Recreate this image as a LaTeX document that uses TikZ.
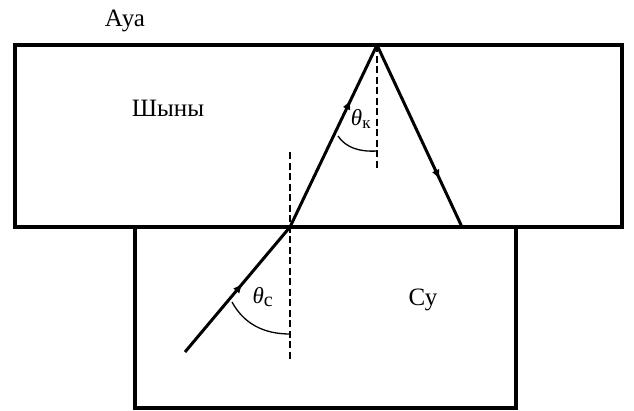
\documentclass[tikz,border=0pt]{standalone}
\usepackage{fontspec}
\setmainfont{Liberation Serif}
\usetikzlibrary{decorations.markings,arrows.meta}
\tikzset{
  wall/.style={line width=3.2pt},
  ray/.style={line width=3pt},
  normal/.style={line width=2pt, dash pattern=on 7pt off 3.5pt},
  arc/.style={line width=1.3pt},
  lbl/.style={font=\fontsize{25}{25}\selectfont, inner sep=0pt},
  ang/.style={font=\fontsize{23}{23}\selectfont, inner sep=0pt},
  midarrow/.style={postaction={decorate, decoration={markings,
     mark=at position #1 with {\arrow{Latex[length=10pt,width=8pt]}}}}}
}
\begin{document}
\begin{tikzpicture}[x=1pt,y=-1pt]
\useasboundingbox (0,0) rectangle (634,410);
% water box
\coordinate (wTL) at (135,227);
\coordinate (wBL) at (135,408);
\coordinate (wBR) at (516,408);
\coordinate (wTR) at (516,227);
\draw[wall] (wTL) -- (wBL) -- (wBR) -- (wTR);
% glass box
\coordinate (gTL) at (15,45);
\coordinate (gTR) at (622,45);
\coordinate (gBR) at (622,227);
\coordinate (gBL) at (15,227);
\draw[wall] (gTL) -- (gTR) -- (gBR) -- (gBL) -- cycle;
% points
\coordinate (S) at (185,352);
\coordinate (P) at (290,227);
\coordinate (Q) at (377,45);
\coordinate (R) at (462,227);
% normals
\coordinate (n1a) at (290,152);
\coordinate (n1b) at (290,362);
\coordinate (n2b) at (377,170);
\draw[normal] (n1a) -- (n1b);
\draw[normal] (Q) -- (n2b);
% rays
\draw[ray, midarrow=0.55] (S) -- (P);
\draw[ray, midarrow=0.70] (P) -- (Q);
\draw[ray, midarrow=0.74] (Q) -- (R);
% angle arcs
\coordinate (a1s) at (232,302);
\coordinate (a1e) at (290,334);
\draw[arc] (a1s) .. controls (244,324) and (264,334) .. (a1e);
\coordinate (a2s) at (338,136);
\coordinate (a2e) at (377,151);
\draw[arc] (a2s) .. controls (346,148) and (360,152) .. (a2e);
% labels
\node[lbl] (aua) at (125,21) {Ауа};
\node[lbl] (glass) at (168,108) {Шыны};
\node[lbl] (water) at (423,300) {Су};
\node[ang] (tc) at (263,297) {\textit{θ}\textsubscript{\fontsize{20}{20}\selectfont с}};
\node[ang] (tk) at (361,119) {\textit{θ}\textsubscript{\fontsize{17}{17}\selectfont к}};
\end{tikzpicture}
\end{document}
